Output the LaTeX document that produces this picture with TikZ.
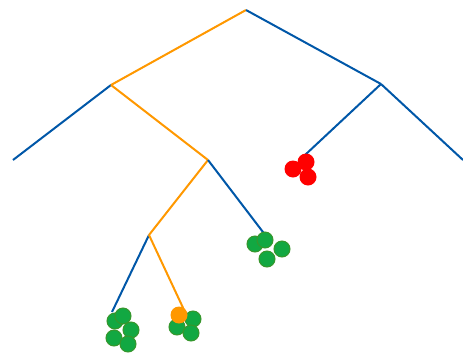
\documentclass[tikz,border=0pt]{standalone}
\begin{document}
\definecolor{branchblue}{RGB}{0,87,168}
\definecolor{branchorange}{RGB}{255,152,0}
\definecolor{leafgreen}{RGB}{18,168,66}
\definecolor{leafgreenedge}{RGB}{56,150,44}
\definecolor{leafred}{RGB}{255,0,0}
\begin{tikzpicture}[x=1pt,y=-1pt,
  edge/.style={line width=2pt,branchblue},
  hot/.style={line width=2pt,branchorange},
  ball/.style={circle,inner sep=0pt,minimum size=17pt},
  gball/.style={ball,fill=leafgreen,draw=leafgreenedge,line width=1pt,minimum size=16pt},
  rball/.style={ball,fill=leafred},
  oball/.style={ball,fill=branchorange}]
\useasboundingbox (0,0) rectangle (463,354);
% tree vertices
\coordinate (root) at (246,10);
\coordinate (a) at (111,85);
\coordinate (b) at (381,84);
\coordinate (aleaf) at (13,160);
\coordinate (c) at (208,160);
\coordinate (bl) at (305,155);
\coordinate (br) at (463,160);
\coordinate (d) at (149,235);
\coordinate (cr) at (266,236);
\coordinate (dl) at (112,312);
\coordinate (dr) at (185,312);
% branches
\draw[hot] (root) -- (a);
\draw[edge] (root) -- (b);
\draw[edge] (a) -- (aleaf);
\draw[hot] (a) -- (c);
\draw[edge] (b) -- (bl);
\draw[edge] (b) -- (br);
\draw[hot] (c) -- (d);
\draw[edge] (c) -- (cr);
\draw[edge] (d) -- (dl);
\draw[hot] (d) -- (dr);
% red cluster
\node[rball] (r1) at (293,169) {};
\node[rball] (r2) at (306,162) {};
\node[rball] (r3) at (308,177) {};
% green cluster under c
\node[gball] (g1) at (255,244) {};
\node[gball] (g2) at (265,240) {};
\node[gball] (g3) at (282,249) {};
\node[gball] (g4) at (267,259) {};
% green cluster under dl
\node[gball] (h1) at (115,321) {};
\node[gball] (h2) at (123,316) {};
\node[gball] (h3) at (131,330) {};
\node[gball] (h4) at (114,338) {};
\node[gball] (h5) at (128,344) {};
% cluster under dr
\node[gball] (k1) at (193,319) {};
\node[gball] (k2) at (177,327) {};
\node[gball] (k3) at (191,333) {};
\node[oball] (o1) at (179,315) {};
\end{tikzpicture}
\end{document}
